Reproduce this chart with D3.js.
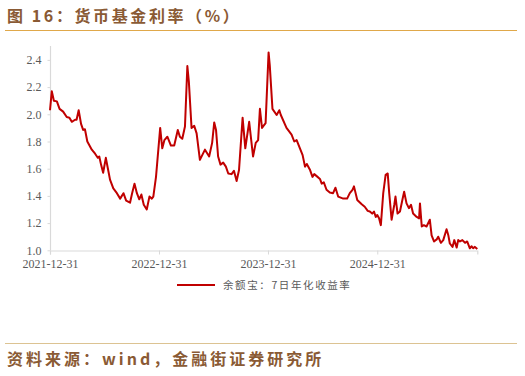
<!DOCTYPE html>
<html>
<head>
<meta charset="utf-8">
<script src="https://cdn.jsdelivr.net/npm/d3@7"></script>
<style>
  body { margin: 0; background: #fff; }
  svg { display: block; }
</style>
</head>
<body>
<div id="chart"></div>
<script>
// 余额宝 7日年化收益率
const dates = [
  "2021-12-31","2022-01-06","2022-01-13","2022-01-23","2022-02-01","2022-02-13","2022-02-25","2022-03-06",
  "2022-03-14","2022-03-25","2022-03-30","2022-04-06","2022-04-14","2022-04-21","2022-04-27","2022-05-05",
  "2022-05-20","2022-05-31","2022-06-09","2022-06-14","2022-06-20","2022-06-27","2022-07-06","2022-07-13",
  "2022-07-20","2022-07-31","2022-08-12","2022-08-23","2022-09-03","2022-09-12","2022-09-25","2022-10-02",
  "2022-10-10","2022-10-18","2022-10-26","2022-11-02","2022-11-10","2022-11-20","2022-11-29","2022-12-07",
  "2022-12-12","2022-12-21","2023-01-04","2023-01-11","2023-01-18","2023-01-28","2023-02-09","2023-02-20",
  "2023-03-04","2023-03-11","2023-03-19","2023-03-28","2023-04-05","2023-04-10","2023-04-19","2023-04-28",
  "2023-05-06","2023-05-17","2023-06-03","2023-06-17","2023-06-27","2023-07-04","2023-07-10","2023-07-17",
  "2023-07-25","2023-08-03","2023-08-12","2023-08-20","2023-08-31","2023-09-08","2023-09-17","2023-09-25",
  "2023-10-07","2023-10-16","2023-10-29","2023-11-11","2023-11-20","2023-11-28","2023-12-04","2023-12-11",
  "2023-12-23","2024-01-02","2024-01-06","2024-01-15","2024-01-29","2024-02-07","2024-02-12","2024-03-02",
  "2024-03-19","2024-03-28","2024-04-05","2024-04-16","2024-04-25","2024-05-03","2024-05-09","2024-05-20",
  "2024-05-28","2024-06-03","2024-06-14","2024-06-22","2024-06-28","2024-07-05","2024-07-14","2024-07-25",
  "2024-08-05","2024-08-13","2024-08-22","2024-09-08","2024-09-21","2024-09-30","2024-10-09","2024-10-14",
  "2024-10-25","2024-11-08","2024-11-19","2024-11-29","2024-12-06","2024-12-14","2024-12-20","2024-12-26",
  "2024-12-31","2025-01-06","2025-01-12","2025-01-20","2025-01-28","2025-02-04","2025-02-09","2025-02-17",
  "2025-02-26","2025-03-02","2025-03-09","2025-03-17","2025-03-25","2025-03-31","2025-04-08","2025-04-16",
  "2025-04-23","2025-04-30","2025-05-12","2025-05-20","2025-05-23","2025-05-29","2025-06-05","2025-06-14",
  "2025-06-25","2025-07-01","2025-07-09","2025-07-18","2025-07-23","2025-08-01","2025-08-09","2025-08-20",
  "2025-08-26","2025-08-31","2025-09-09","2025-09-15","2025-09-23","2025-09-28","2025-10-04","2025-10-12",
  "2025-10-21","2025-10-28","2025-11-06","2025-11-12","2025-11-17","2025-11-23","2025-12-01"
];
const yields = [
  2.03,2.17,2.10,2.095,2.04,2.02,1.98,1.975,
  1.945,1.96,1.96,2.03,1.93,1.885,1.89,1.80,
  1.74,1.71,1.68,1.69,1.63,1.57,1.68,1.60,
  1.52,1.455,1.42,1.38,1.42,1.365,1.35,1.42,
  1.49,1.42,1.375,1.41,1.335,1.30,1.395,1.38,
  1.395,1.54,1.90,1.75,1.81,1.835,1.77,1.77,
  1.885,1.835,1.82,1.91,2.355,2.24,1.90,1.915,
  1.86,1.665,1.74,1.69,1.79,1.94,1.885,1.69,
  1.63,1.645,1.615,1.565,1.56,1.585,1.51,1.59,
  1.975,1.75,1.945,1.69,1.79,1.81,2.04,1.90,
  1.935,2.455,2.36,2.04,1.995,2.03,1.995,1.90,
  1.85,1.80,1.81,1.75,1.70,1.615,1.635,1.59,
  1.54,1.56,1.54,1.525,1.49,1.50,1.445,1.425,
  1.42,1.46,1.395,1.38,1.38,1.42,1.445,1.47,
  1.37,1.34,1.32,1.29,1.285,1.27,1.285,1.245,
  1.26,1.235,1.185,1.42,1.555,1.565,1.42,1.225,
  1.335,1.395,1.27,1.285,1.37,1.43,1.345,1.31,
  1.335,1.27,1.245,1.235,1.345,1.175,1.185,1.175,
  1.225,1.11,1.065,1.08,1.10,1.055,1.075,1.155,
  1.11,1.05,1.025,1.075,1.02,1.075,1.065,1.075,
  1.055,1.065,1.015,1.03,1.015,1.025,1.01
];
const xTicks = ["2021-12-31","2022-12-31","2023-12-31","2024-12-31"];
const yTicks = [1.0,1.2,1.4,1.6,1.8,2.0,2.2,2.4];
const seriesName = "余额宝：7日年化收益率";
const title = "图 16：货币基金利率（%）";
const source = "资料来源：wind，金融街证券研究所";

const W = 525, H = 376;
const parse = d3.timeParse("%Y-%m-%d");
const data = dates.map((d, i) => ({ date: parse(d), v: yields[i] }));

const svg = d3.select("#chart").append("svg")
  .attr("width", W).attr("height", H);

// header
svg.append("text")
  .attr("x", 7).attr("y", 22)
  .attr("fill", "#8a5a34")
  .style("font-family", "'Noto Sans CJK SC', sans-serif")
  .style("font-size", "16px").style("font-weight", "bold")
  .style("letter-spacing", "2.6px")
  .text(title);
svg.append("line")
  .attr("x1", 5).attr("x2", 517).attr("y1", 30.5).attr("y2", 30.5)
  .attr("stroke", "#e0a84a").attr("stroke-width", 1.2);

// scales
var x = d3.scaleTime()
  .domain([parse(dates[0]), parse(dates[dates.length - 1])])
  .range([50, 477.3]);
var y = d3.scaleLinear()
  .domain([1.0, 2.4])
  .range([250.3, 59.9]);

const tickFont = "'Liberation Serif', 'Times New Roman', serif";

// x axis
const xAxis = svg.append("g")
  .attr("transform", "translate(0,250.5)")
  .call(d3.axisBottom(x).tickValues(xTicks.map(parse))
    .tickFormat(d3.timeFormat("%Y-%m-%d")).tickSizeOuter(0).tickSize(4).tickPadding(5));
xAxis.select(".domain").attr("stroke", "#d9d9d9").attr("stroke-width", 1.2);
xAxis.selectAll(".tick line").attr("stroke", "#d9d9d9");
xAxis.selectAll("text").attr("fill", "#595959")
  .style("font-family", tickFont).style("font-size", "12px");

// y axis
const yAxis = svg.append("g")
  .attr("transform", "translate(50.5,0)")
  .call(d3.axisLeft(y).tickValues(yTicks).tickFormat(d3.format(".1f"))
    .tickSizeOuter(0).tickSize(3).tickPadding(6));
yAxis.select(".domain").attr("d", "M0,46V250.3").attr("stroke", "#d9d9d9").attr("stroke-width", 1.2);
yAxis.selectAll(".tick line").attr("stroke", "#d9d9d9");
yAxis.selectAll("text").attr("fill", "#595959")
  .style("font-family", tickFont).style("font-size", "12px");

// line
svg.append("path")
  .datum(data)
  .attr("fill", "none")
  .attr("stroke", "#c00000")
  .attr("stroke-width", 2)
  .attr("stroke-linejoin", "round")
  .attr("d", d3.line().x(d => x(d.date)).y(d => y(d.v)));

// legend
svg.append("line")
  .attr("x1", 177).attr("x2", 215).attr("y1", 285).attr("y2", 285)
  .attr("stroke", "#c00000").attr("stroke-width", 2);
svg.append("text")
  .attr("x", 223).attr("y", 289)
  .attr("fill", "#595959")
  .style("font-family", "'Noto Sans CJK SC', sans-serif")
  .style("font-size", "10.5px").style("letter-spacing", "1.6px")
  .text(seriesName);

// footer
svg.append("line")
  .attr("x1", 5).attr("x2", 517).attr("y1", 343.5).attr("y2", 343.5)
  .attr("stroke", "#dcc392").attr("stroke-width", 1.2);
svg.append("text")
  .attr("x", 7).attr("y", 365)
  .attr("fill", "#8a5a34")
  .style("font-family", "'Noto Sans CJK SC', sans-serif")
  .style("font-size", "16px").style("font-weight", "bold")
  .style("letter-spacing", "3px")
  .text(source);
</script>
</body>
</html>
